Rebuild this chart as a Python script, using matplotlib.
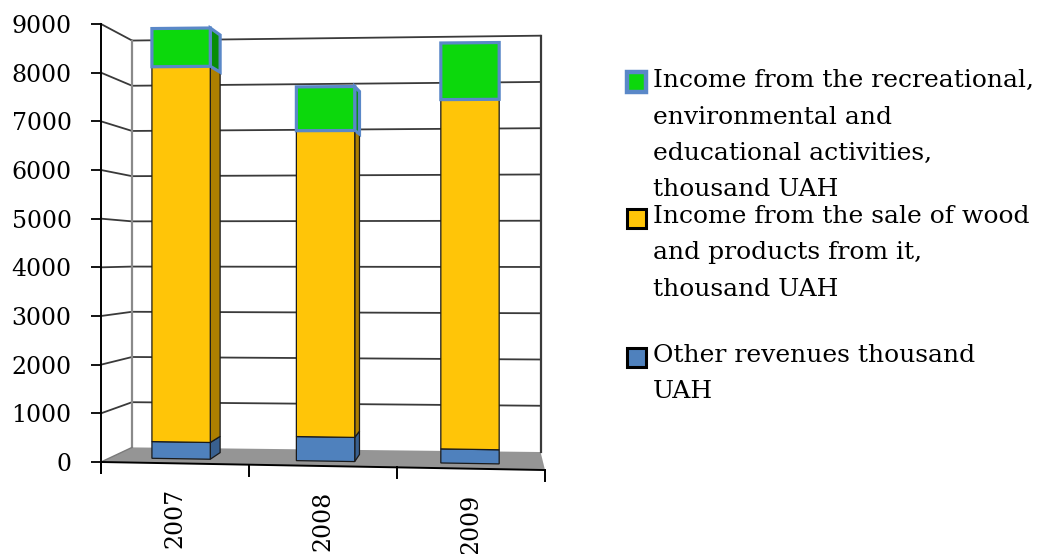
import numpy as np
import matplotlib
matplotlib.use("Agg")
import matplotlib.pyplot as plt
from matplotlib.patches import Polygon, Rectangle
from matplotlib.lines import Line2D

# ---- data -------------------------------------------------------------
years = ["2007", "2008", "2009"]
other_revenues = [350, 500, 290]
wood_income = [7850, 6350, 7190]
recreation_income = [800, 910, 1165]

series_labels = [
    ["Income from the recreational,", "environmental and",
     "educational activities,", "thousand UAH"],
    ["Income from the sale of wood", "and products from it,", "thousand UAH"],
    ["Other revenues thousand", "UAH"],
]
y_ticks = list(range(0, 9001, 1000))
Y_MAX = 9000

# ---- style ------------------------------------------------------------
FONT = ["DejaVu Serif"]
FS_AXIS = 17
FS_LEGEND = 18
plt.rcParams["font.family"] = FONT

# face colour, side colour, edge colour, edge width (bottom -> top of stack)
seg_styles = [
    ("#4f81bd", "#39608f", "#1a1a1a", 0.9),
    ("#ffc508", "#ad7f00", "#1a1a1a", 0.9),
    ("#0cd80c", "#078d07", "#5a88c8", 2.3),
]

W, H, DPI = 1045, 554, 100
fig = plt.figure(figsize=(W / DPI, H / DPI), dpi=DPI)

# axes: x in category units (0..3), y in value units (front-left plane is exact)
ax_left, ax_top, ax_w, ax_h = 101, 24, 444, 438
ax = fig.add_axes([ax_left / W, (H - ax_top - ax_h) / H, ax_w / W, ax_h / H])
ax.set_xlim(0, len(years))
ax.set_ylim(0, Y_MAX)
ax.patch.set_visible(False)
for s in ax.spines.values():
    s.set_visible(False)
ax.set_xticks([])

PX_PER_UNIT = ax_h / Y_MAX  # pixels per value unit

# ---- perspective box: corners of front (depth 0) and back (depth 1) planes
FRONT_BOTTOM = (np.array([0.0, 0.0]), np.array([3.0, -165.0]))
FRONT_TOP = (np.array([0.0, 9000.0]), np.array([3.0, 9080.0]))
BACK_BOTTOM = (np.array([0.21, 300.0]), np.array([2.97, 205.0]))
BACK_TOP = (np.array([0.21, 8660.0]), np.array([2.97, 8760.0]))


def proj(u, v, w):
    """Map (category position, value, depth) to axes data coordinates."""
    t = u / len(years)

    def plane(front, back):
        f = front[0] + (front[1] - front[0]) * t
        b = back[0] + (back[1] - back[0]) * t
        return f + (b - f) * w

    bot = plane(FRONT_BOTTOM, BACK_BOTTOM)
    top = plane(FRONT_TOP, BACK_TOP)
    return bot + (top - bot) * (v / Y_MAX)


def poly(points, **kw):
    ax.add_patch(Polygon(np.array(points), closed=True, clip_on=False, **kw))


def line(p0, p1, **kw):
    ax.add_line(Line2D([p0[0], p1[0]], [p0[1], p1[1]], clip_on=False, **kw))


n = len(years)

# floor
poly([proj(0, 0, 0), proj(n, 0, 0), proj(n, 0, 1), proj(0, 0, 1)],
     facecolor="#959595", edgecolor="none", zorder=1)

# walls: grid lines on side wall and back wall
GRID = dict(color="#3a3a3a", lw=1.3, zorder=2)
for v in y_ticks[1:]:
    line(proj(0, v, 0), proj(0, v, 1), **GRID)
    line(proj(0, v, 1), proj(n, v, 1), **GRID)
line(proj(0, 0, 1), proj(0, Y_MAX, 1), color="#8a8a8a", lw=1.6, zorder=2)
line(proj(n, 0, 1), proj(n, Y_MAX, 1), color="#3a3a3a", lw=1.6, zorder=2)
line(proj(0, 0, 0), proj(0, 0, 1), color="#7a7a7a", lw=1.0, zorder=2)

# front floor edge with category separators
line(proj(0, 0, 0), proj(n, 0, 0), color="black", lw=1.4, zorder=3)
tick_len = 11 / PX_PER_UNIT
for k in range(n + 1):
    p = proj(k, 0, 0)
    line(p, p - np.array([0, tick_len]), color="black", lw=1.4, zorder=3)

# value axis line (extends to the separator tick)
line(proj(0, Y_MAX, 0), proj(0, 0, 0) - np.array([0, tick_len]),
     color="black", lw=1.4, zorder=3)
ax.set_yticks(y_ticks)
ax.set_yticklabels([str(t) for t in y_ticks])
ax.tick_params(axis="y", direction="out", length=7.2, width=1.3,
               color="black", pad=14, labelsize=FS_AXIS)

# ---- 3-D stacked columns ----------------------------------------------
BAR_HALF = 0.202
BAR_CENTER_SHIFT = -0.01
DEPTH_FRONT, DEPTH_BACK = 0.30, 0.73
stack = np.array([other_revenues, wood_income, recreation_income])

for i in range(n):
    u0 = i + 0.5 + BAR_CENTER_SHIFT - BAR_HALF
    u1 = i + 0.5 + BAR_CENTER_SHIFT + BAR_HALF
    wf, wb = DEPTH_FRONT, DEPTH_BACK
    bounds = np.concatenate([[0], np.cumsum(stack[:, i])])
    # sides first, then fronts
    for s in range(len(stack)):
        lo, hi = bounds[s], bounds[s + 1]
        face, side, edge, ew = seg_styles[s]
        if proj(u1, lo, wb)[0] > proj(u1, lo, wf)[0]:
            poly([proj(u1, lo, wf), proj(u1, lo, wb), proj(u1, hi, wb), proj(u1, hi, wf)],
                 facecolor=side, edgecolor=edge, lw=ew, joinstyle="miter", zorder=4)
        if proj(u0, lo, wb)[0] < proj(u0, lo, wf)[0]:
            poly([proj(u0, lo, wf), proj(u0, lo, wb), proj(u0, hi, wb), proj(u0, hi, wf)],
                 facecolor=side, edgecolor=edge, lw=ew, joinstyle="miter", zorder=4)
        if s == len(stack) - 1 and proj(u0, hi, wb)[1] > proj(u0, hi, wf)[1]:
            poly([proj(u0, hi, wf), proj(u1, hi, wf), proj(u1, hi, wb), proj(u0, hi, wb)],
                 facecolor=face, edgecolor=edge, lw=ew, zorder=4)
    for s in range(len(stack)):
        lo, hi = bounds[s], bounds[s + 1]
        face, side, edge, ew = seg_styles[s]
        poly([proj(u0, lo, wf), proj(u1, lo, wf), proj(u1, hi, wf), proj(u0, hi, wf)],
             facecolor=face, edgecolor=edge, lw=ew, joinstyle="miter", zorder=5 + s)

# category labels under the floor edge
for i, yr in enumerate(years):
    ax.annotate(yr, xy=proj(i + 0.5, 0, 0), xytext=(0, -25 * 72 / DPI),
                textcoords="offset points", rotation=90, ha="center", va="top",
                fontsize=FS_AXIS, annotation_clip=False)

# ---- legend -------------------------------------------------------------
LEG_TEXT_X = 653
LEG_MARK_X = 627
LEG_MARK = 19
LINE_STEP = 36.5
first_baselines = [87, 223, 362]
legend_styles = [
    dict(facecolor="#0cd80c", edgecolor="#5a88c8", lw=3.2),
    dict(facecolor="#ffc508", edgecolor="black", lw=2.2),
    dict(facecolor="#4f81bd", edgecolor="black", lw=2.2),
]

for lines, base, st in zip(series_labels, first_baselines, legend_styles):
    for k, txt in enumerate(lines):
        y = base + k * LINE_STEP
        fig.text(LEG_TEXT_X / W, 1 - y / H, txt, ha="left", va="baseline",
                 fontsize=FS_LEGEND)
    cy = base - 5
    fig.add_artist(Rectangle((LEG_MARK_X / W, 1 - (cy + LEG_MARK / 2) / H),
                             LEG_MARK / W, LEG_MARK / H,
                             transform=fig.transFigure, **st))

fig.savefig("out.png", dpi=DPI)
